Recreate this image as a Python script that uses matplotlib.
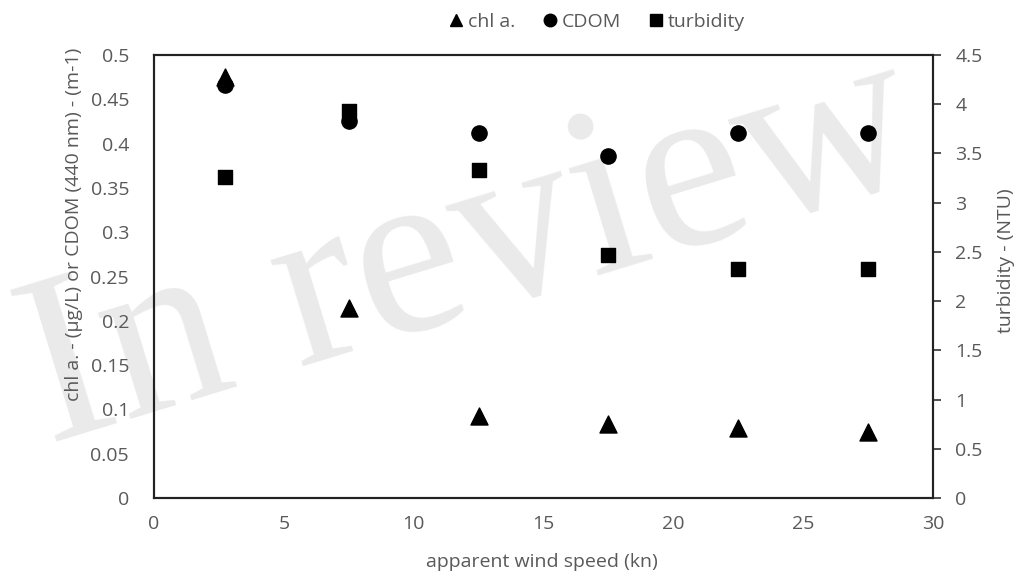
import matplotlib
matplotlib.use("Agg")
import matplotlib.pyplot as plt
from matplotlib.lines import Line2D

# data
wind_speed = [2.75, 7.5, 12.5, 17.5, 22.5, 27.5]
chl_a = [0.475, 0.215, 0.093, 0.084, 0.079, 0.075]
cdom = [0.466, 0.426, 0.412, 0.386, 0.412, 0.412]
turbidity = [3.26, 3.93, 3.33, 2.47, 2.33, 2.33]

left_ticks = [0, 0.05, 0.1, 0.15, 0.2, 0.25, 0.3, 0.35, 0.4, 0.45, 0.5]
right_ticks = [0, 0.5, 1, 1.5, 2, 2.5, 3, 3.5, 4, 4.5]
x_ticks = [0, 5, 10, 15, 20, 25, 30]

plt.rcParams["font.family"] = ["Open Sans", "DejaVu Sans"]
GREY = "#595959"
FS = 14

fig = plt.figure(figsize=(10.18, 5.79), dpi=100)
ax = fig.add_axes([0.1513, 0.1399, 0.7652, 0.7651])
ax.patch.set_visible(False)
ax2 = ax.twinx()

# watermark behind everything
fig.text(0.463, 0.562, "In review", fontsize=174, family=["Liberation Serif", "DejaVu Serif"],
         color="#eaeaea", rotation=17, ha="center", va="center",
         rotation_mode="anchor", zorder=-1)

ax.scatter(wind_speed, chl_a, marker="^", s=150, color="black", zorder=3)
ax.scatter(wind_speed, cdom, marker="o", s=120, color="black", zorder=3)
ax2.scatter(wind_speed, turbidity, marker="s", s=115, color="black", zorder=3)

ax.set_xlim(0, 30)
ax.set_ylim(0, 0.5)
ax2.set_ylim(0, 4.5)
ax.set_xticks(x_ticks)
ax.set_xticklabels([str(t) for t in x_ticks])
ax.set_yticks(left_ticks)
ax.set_yticklabels([f"{t:g}" for t in left_ticks])
ax2.set_yticks(right_ticks)
ax2.set_yticklabels([f"{t:g}" for t in right_ticks])

ax.tick_params(axis="y", length=0, labelsize=FS, labelcolor=GREY, pad=18)
ax.tick_params(axis="x", length=0, labelsize=FS, labelcolor=GREY, pad=12)
ax2.tick_params(axis="y", length=6, width=1.2, direction="out", labelsize=FS,
                labelcolor=GREY, color="#333333", pad=10)

for a in (ax, ax2):
    for sp in a.spines.values():
        sp.set_color("#222222")
        sp.set_linewidth(1.5)

ax.set_xlabel("apparent wind speed (kn)", fontsize=FS, color=GREY)
ax.xaxis.set_label_coords(0.498, -0.124)
ax.set_ylabel("chl a. - (\u00b5g/L) or CDOM (440 nm) - (m-1)", fontsize=FS, color=GREY)
ax.yaxis.set_label_coords(-0.091, 0.618)
ax2.set_ylabel("turbidity - (NTU)", fontsize=FS, color=GREY)
ax2.yaxis.set_label_coords(1.082, 0.536)

handles = [
    Line2D([], [], marker="^", color="black", linestyle="none", markersize=9),
    Line2D([], [], marker="o", color="black", linestyle="none", markersize=9),
    Line2D([], [], marker="s", color="black", linestyle="none", markersize=9),
]
leg = fig.legend(handles, ["chl a.", "CDOM", "turbidity"], loc="center",
                 bbox_to_anchor=(0.584, 0.962), ncol=3, frameon=False,
                 fontsize=FS, handletextpad=0.0, columnspacing=1.2,
                 handlelength=1.2)
for t in leg.get_texts():
    t.set_color(GREY)

fig.savefig("out.png", dpi=100)
